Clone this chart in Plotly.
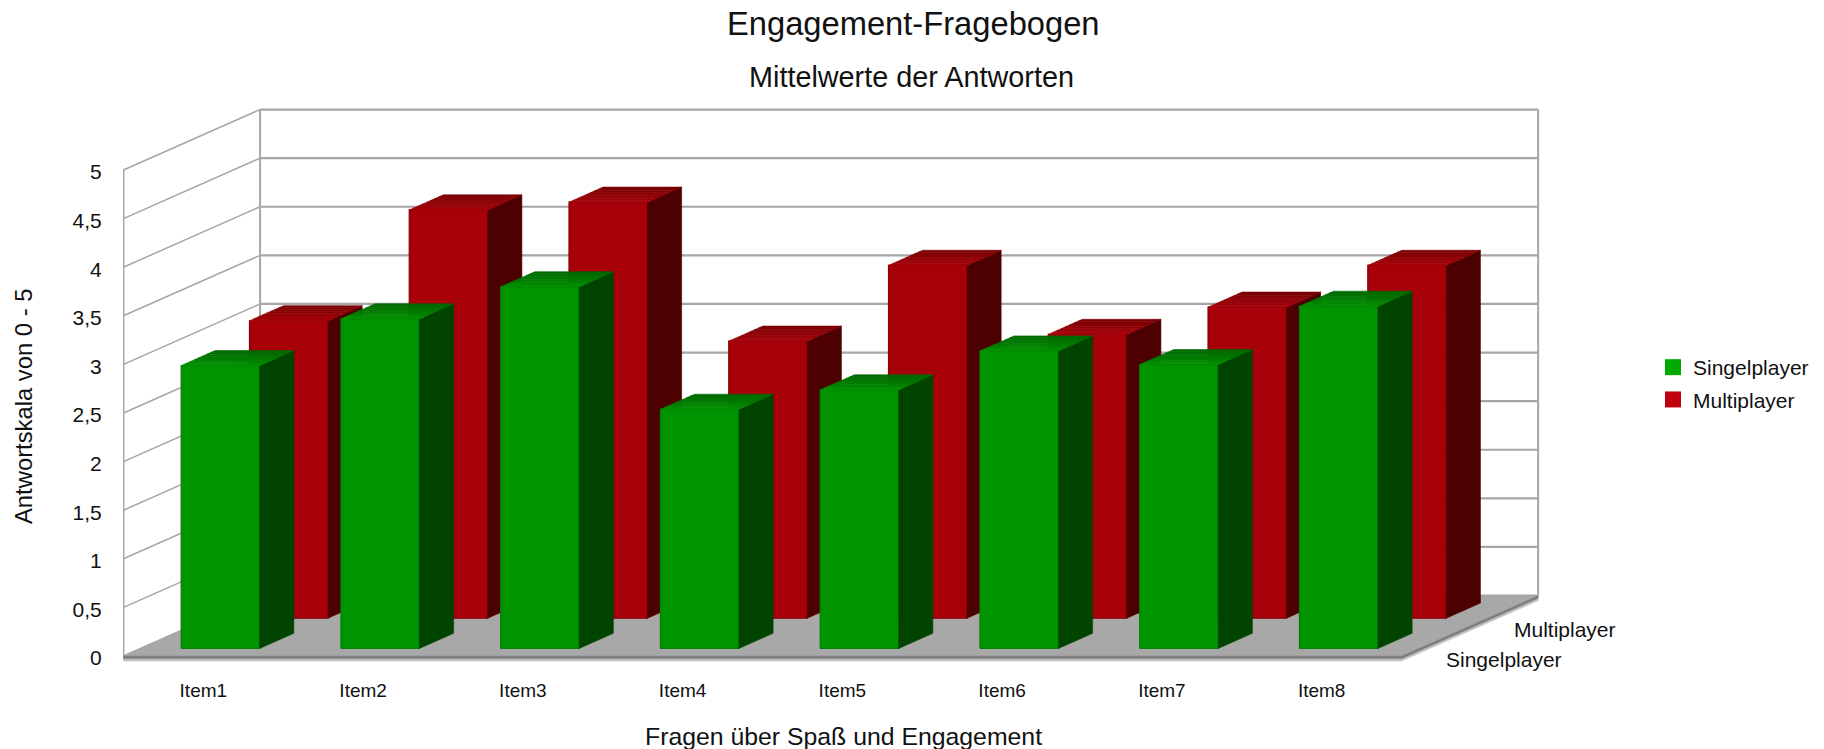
import plotly.graph_objects as go

# Survey means per questionnaire item
categories = ["Item1", "Item2", "Item3", "Item4", "Item5", "Item6", "Item7", "Item8"]
singleplayer = [2.91, 3.39, 3.72, 2.46, 2.66, 3.06, 2.92, 3.52]
multiplayer = [3.06, 4.20, 4.28, 2.85, 3.63, 2.92, 3.20, 3.63]
series_names = ["Singelplayer", "Multiplayer"]
value_ticks = [0, 0.5, 1, 1.5, 2, 2.5, 3, 3.5, 4, 4.5, 5]
value_tick_labels = ["0", "0,5", "1", "1,5", "2", "2,5", "3", "3,5", "4", "4,5", "5"]

FONT = "Liberation Sans"
TEXT = "#111111"
GRID = "#a6a6a6"

WIDTH, HEIGHT = 1824, 749
MARGIN = dict(l=123, r=279, t=100, b=86)

# Oblique projection: one unit of depth moves this far along the x and y axes
SHEAR_X = 0.855
SHEAR_Y = 0.622
BAR_HALF = 0.2457
BAR_DEPTH = 0.25
SLAB = 0.052
X_MIN, X_MAX = 0.497, 9.398
Y_MIN, Y_MAX = -0.072, 5.72


def paper_x(px):
    return (px - MARGIN["l"]) / (WIDTH - MARGIN["l"] - MARGIN["r"])


def paper_y(px):
    return 1 - (px - MARGIN["t"]) / (HEIGHT - MARGIN["t"] - MARGIN["b"])


def project(cat, value, depth):
    return cat + depth * SHEAR_X, value + depth * SHEAR_Y


def polygons(quads):
    """Join lists of (cat, value, depth) corners into one fillable x/y path."""
    xs, ys = [], []
    for quad in quads:
        points = [project(*corner) for corner in quad]
        points.append(points[0])
        xs += [p[0] for p in points] + [None]
        ys += [p[1] for p in points] + [None]
    return xs, ys


def filled(quads, color, edge=None, edge_width=0.6):
    xs, ys = polygons(quads)
    return go.Scatter(
        x=xs, y=ys, mode="lines", fill="toself", fillcolor=color,
        line=dict(color=edge or color, width=edge_width),
        hoverinfo="skip", showlegend=False,
    )


def polyline(segments, width):
    xs, ys = [], []
    for a, b in segments:
        for corner in (a, b):
            x, y = project(*corner)
            xs.append(x)
            ys.append(y)
        xs.append(None)
        ys.append(None)
    return go.Scatter(
        x=xs, y=ys, mode="lines", line=dict(color=GRID, width=width),
        hoverinfo="skip", showlegend=False,
    )


def bar_traces(values, depth, front, side, top_steps, edge):
    cats = range(1, len(values) + 1)
    near, far = depth, depth + BAR_DEPTH
    traces = [
        filled([[(c - BAR_HALF, 0, near), (c + BAR_HALF, 0, near),
                 (c + BAR_HALF, v, near), (c - BAR_HALF, v, near)]
                for c, v in zip(cats, values)], front, edge, 1.2),
        filled([[(c + BAR_HALF, 0, near), (c + BAR_HALF, 0, far),
                 (c + BAR_HALF, v, far), (c + BAR_HALF, v, near)]
                for c, v in zip(cats, values)], side),
    ]
    # The top face darkens towards the back in narrow bands
    count = len(top_steps)
    for i, color in enumerate(top_steps):
        d0 = far - BAR_DEPTH * i / count
        d1 = far - BAR_DEPTH * (i + 1) / count
        traces.append(filled([[(c - BAR_HALF, v, d0), (c + BAR_HALF, v, d0),
                               (c + BAR_HALF, v, d1), (c - BAR_HALF, v, d1)]
                              for c, v in zip(cats, values)], color))
    return traces


fig = go.Figure()
left, right = 0.5, len(categories) + 0.5

# Walls: depth lines on the left, horizontal lines on the back
fig.add_trace(polyline([((left, v, 0), (left, v, 1)) for v in value_ticks], 1.5))
fig.add_trace(polyline([((left, v, 1), (right, v, 1)) for v in value_ticks], 2.2))
fig.add_trace(polyline([((left, 0, 0), (left, 5, 0)),
                        ((left, 0, 1), (left, 5, 1)),
                        ((right, 0, 1), (right, 5, 1))], 2))

# Floor plate with its shaded rim
fig.add_trace(filled([[(left, 0, 0), (right, 0, 0), (right, 0, 1), (left, 0, 1)]], "#a8a8a8"))
for i, color in enumerate(["#8a8a8a", "#6c6c6c", "#9a9a9a", "#c4c4c4"]):
    v0, v1 = -SLAB * i / 4, -SLAB * (i + 1) / 4
    fig.add_trace(filled([[(left, v0, 0), (right, v0, 0), (right, v1, 0), (left, v1, 0)],
                          [(right, v0, 0), (right, v0, 1), (right, v1, 1), (right, v1, 0)]], color))

red_top = ["#7c0004", "#7f0004", "#840005", "#8a0005", "#900006", "#960006", "#9c0007", "#a40008"]
green_top = ["#006a00", "#006e00", "#007200", "#007700", "#007c00", "#008200", "#008900", "#009100"]
for trace in bar_traces(multiplayer, 0.625, "#a80008", "#4c0000", red_top, "#8c0008"):
    fig.add_trace(trace)
for trace in bar_traces(singleplayer, 0.125, "#009400", "#004400", green_top, "#077e07"):
    fig.add_trace(trace)

# Legend entries
for name, color in zip(series_names, ["#00aa00", "#c0000e"]):
    fig.add_trace(go.Scatter(
        x=[None], y=[None], mode="markers", name=name, legendgroup=name,
        marker=dict(symbol="square", size=16, color=color),
    ))

annotations = [
    dict(text="Engagement-Fragebogen", x=913, y=23, size=32.7, angle=0),
    dict(text="Mittelwerte der Antworten", x=911, y=77, size=28.8, angle=0),
    dict(text="Fragen über Spaß und Engagement", x=843, y=736, size=24.8, angle=0),
    dict(text="Antwortskala von 0 - 5", x=23, y=407, size=23.8, angle=-90),
]
layout_notes = [
    dict(text=a["text"], xref="paper", yref="paper",
         x=paper_x(a["x"]), y=paper_y(a["y"]), xanchor="center", yanchor="middle",
         showarrow=False, textangle=a["angle"], font=dict(family=FONT, size=a["size"], color=TEXT))
    for a in annotations
]
# Depth-axis labels sit just right of the plate edge at each series' depth
for name, depth in zip(series_names, [0.25, 0.75]):
    x, y = project(right, 0, depth)
    layout_notes.append(dict(
        text=name, x=x, y=y, xref="x", yref="y", xanchor="left", yanchor="middle",
        xshift=8, yshift=-19, showarrow=False,
        font=dict(family=FONT, size=21, color=TEXT),
    ))

fig.update_layout(
    width=WIDTH, height=HEIGHT, autosize=False,
    paper_bgcolor="white", plot_bgcolor="white",
    margin=dict(**MARGIN, pad=0, autoexpand=False),
    font=dict(family=FONT, color=TEXT),
    annotations=layout_notes,
    xaxis=dict(
        range=[X_MIN, X_MAX], tickvals=list(range(1, len(categories) + 1)), ticktext=categories,
        showgrid=False, zeroline=False, showline=False, ticks="outside", ticklen=10,
        tickcolor="rgba(0,0,0,0)", tickfont=dict(family=FONT, size=19, color=TEXT),
    ),
    yaxis=dict(
        range=[Y_MIN, Y_MAX], tickvals=value_ticks, ticktext=value_tick_labels,
        showgrid=False, zeroline=False, showline=False, ticks="outside", ticklen=16,
        tickcolor="rgba(0,0,0,0)", tickfont=dict(family=FONT, size=21, color=TEXT),
        ticklabelshift=2,
    ),
    legend=dict(
        x=paper_x(1653), y=paper_y(347), xanchor="left", yanchor="top",
        font=dict(family=FONT, size=21, color=TEXT), tracegroupgap=2,
        bgcolor="rgba(0,0,0,0)", borderwidth=0,
    ),
)

fig.write_html("out.html")
